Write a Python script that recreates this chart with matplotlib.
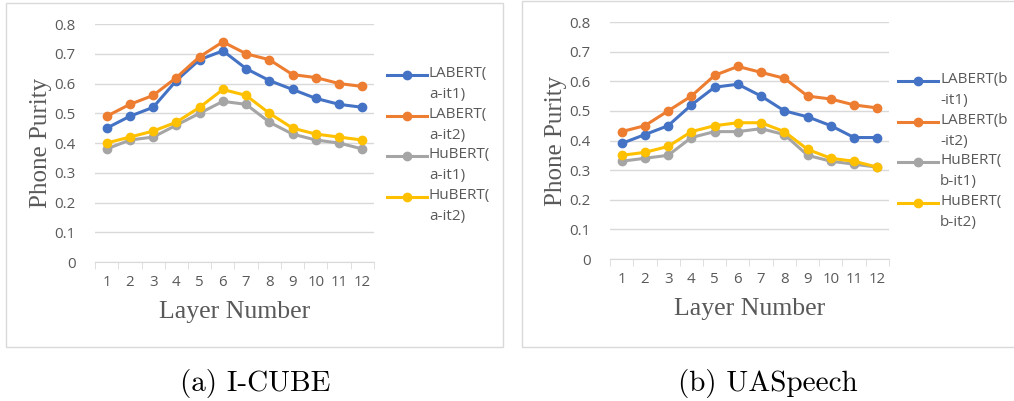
import matplotlib.pyplot as plt
from matplotlib.lines import Line2D
from matplotlib.patches import Rectangle

layers = list(range(1, 13))

# I-CUBE
lab_a1 = [0.45, 0.49, 0.52, 0.61, 0.68, 0.71, 0.65, 0.61, 0.58, 0.55, 0.53, 0.52]
lab_a2 = [0.49, 0.53, 0.56, 0.62, 0.69, 0.74, 0.70, 0.68, 0.63, 0.62, 0.60, 0.59]
hub_a1 = [0.38, 0.41, 0.42, 0.46, 0.50, 0.54, 0.53, 0.47, 0.43, 0.41, 0.40, 0.38]
hub_a2 = [0.40, 0.42, 0.44, 0.47, 0.52, 0.58, 0.56, 0.50, 0.45, 0.43, 0.42, 0.41]

# UASpeech
lab_b1 = [0.39, 0.42, 0.45, 0.52, 0.58, 0.59, 0.55, 0.50, 0.48, 0.45, 0.41, 0.41]
lab_b2 = [0.43, 0.45, 0.50, 0.55, 0.62, 0.65, 0.63, 0.61, 0.55, 0.54, 0.52, 0.51]
hub_b1 = [0.33, 0.34, 0.35, 0.41, 0.43, 0.43, 0.44, 0.42, 0.35, 0.33, 0.32, 0.31]
hub_b2 = [0.35, 0.36, 0.38, 0.43, 0.45, 0.46, 0.46, 0.43, 0.37, 0.34, 0.33, 0.31]

labels_a = ["LABERT(\na-it1)", "LABERT(\na-it2)", "HuBERT(\na-it1)", "HuBERT(\na-it2)"]
labels_b = ["LABERT(b\n-it1)", "LABERT(b\n-it2)", "HuBERT(\nb-it1)", "HuBERT(\nb-it2)"]
colors = ["#4472C4", "#ED7D31", "#A5A5A5", "#FFC000"]

fig = plt.figure(figsize=(10.14, 4.01), dpi=100)


def panel(rect, series, labels, leg_x, leg_y, frame, caption, cap_x):
    ax = fig.add_axes(rect)
    for vals, col in zip(series, colors):
        ax.plot(layers, vals, color=col, lw=2.2, marker="o", ms=6, zorder=3)
    ax.set_xlim(0.5, 12.5)
    ax.set_ylim(0, 0.8)
    ax.set_yticks([0, 0.1, 0.2, 0.3, 0.4, 0.5, 0.6, 0.7, 0.8])
    ax.set_yticklabels(["0", "0.1", "0.2", "0.3", "0.4", "0.5", "0.6", "0.7", "0.8"])
    ax.set_xticks(layers)
    ax.set_xticks([x + 0.5 for x in range(0, 13)], minor=True)
    ax.tick_params(axis="x", which="major", length=0, pad=9)
    ax.tick_params(axis="x", which="minor", length=5, color="#D9D9D9", direction="out")
    ax.tick_params(axis="y", length=0, pad=14)
    ax.tick_params(labelsize=10.8, labelcolor="#595959")
    for lab in ax.get_xticklabels() + ax.get_yticklabels():
        lab.set_fontfamily("Open Sans")
    for s in ["top", "right", "left"]:
        ax.spines[s].set_visible(False)
    ax.spines["bottom"].set_color("#D9D9D9")
    ax.grid(axis="y", color="#D9D9D9", lw=1)
    ax.set_axisbelow(True)
    ax.set_xlabel("Layer Number", fontsize=18.5, fontfamily="Liberation Serif",
                  color="#595959", labelpad=8)
    ax.set_ylabel("Phone Purity", fontsize=18, fontfamily="Liberation Serif",
                  color="#595959", labelpad=2)

    # legend drawn by hand to match the two-line entries
    for i, (col, lab) in enumerate(zip(colors, labels)):
        y = leg_y - i * 40.7 / 401
        fig.add_artist(Line2D([leg_x, leg_x + 20 / 1014, leg_x + 40 / 1014], [y, y, y],
                              color=col, lw=2.2, marker="o", ms=6, markevery=[1]))
        fig.text(leg_x + 42 / 1014, y + 9 / 401, lab, fontsize=11, fontfamily="Open Sans",
                 color="#595959", va="top", ha="left", linespacing=1.55)

    x0, y0, w, h = frame
    fig.add_artist(Rectangle((x0, y0), w, h, transform=fig.transFigure,
                             fill=False, ec="#D9D9D9", lw=1))
    fig.text(cap_x, 1 - 383 / 401, caption, fontsize=21, fontfamily="cmr10",
             ha="center", va="center")
    return ax


panel([0.0937, 0.3466, 0.2751, 0.5935], [lab_a1, lab_a2, hub_a1, hub_a2], labels_a,
      387 / 1014, 1 - 75 / 401, (6 / 1014, 1 - 347 / 401, 497 / 1014, 344 / 401),
      "(a) I-CUBE", 255 / 1014)
panel([0.6016, 0.3541, 0.2751, 0.5910], [lab_b1, lab_b2, hub_b1, hub_b2], labels_b,
      898 / 1014, 1 - 81 / 401, (522 / 1014, 1 - 347 / 401, 495 / 1014, 346 / 401),
      "(b) UASpeech", 768 / 1014)

fig.savefig("out.png", dpi=100)
